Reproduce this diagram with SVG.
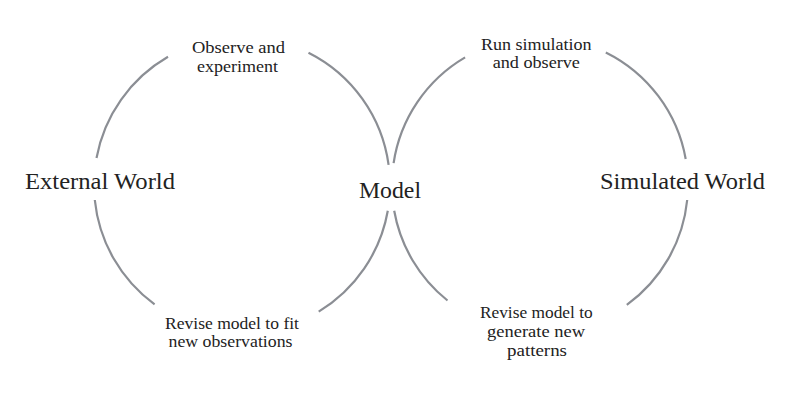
<svg xmlns="http://www.w3.org/2000/svg" width="795" height="402" viewBox="0 0 795 402">
<style>
.arc{fill:none;stroke:#8b8e94;stroke-width:2.2;stroke-linecap:butt}
text{font-family:"Liberation Serif","Times New Roman",serif;fill:#222;text-anchor:middle}
.big{font-size:23.5px}
.small{font-size:16.5px}
</style>
<rect width="795" height="402" fill="#fff"/>
<g id="connectors">
<path class="arc" d="M96.5,158 A148,148 0 0 1 168,56.8"/>
<path class="arc" d="M308.5,52.8 A148,148 0 0 1 388.6,164.9"/>
<path class="arc" d="M387.8,210.7 A148,148 0 0 1 318.7,311.6"/>
<path class="arc" d="M154.6,304.4 A148,148 0 0 1 94.8,200"/>
<path class="arc" d="M393.6,163.1 A148,148 0 0 1 465.1,57.4"/>
<path class="arc" d="M605.8,52.4 A148,148 0 0 1 685.7,159"/>
<path class="arc" d="M687.2,200 A148,148 0 0 1 626.8,304.9"/>
<path class="arc" d="M447.5,300.5 A148,148 0 0 1 394.2,210.7"/>
</g>
<g id="external-world" font-family="Liberation Serif, serif"><text class="big" x="100" y="189" textLength="150" lengthAdjust="spacingAndGlyphs">External World</text></g>
<g id="model" font-family="Liberation Serif, serif"><text class="big" x="390" y="198" textLength="62" lengthAdjust="spacingAndGlyphs">Model</text></g>
<g id="simulated-world" font-family="Liberation Serif, serif"><text class="big" x="682.5" y="189" textLength="165" lengthAdjust="spacingAndGlyphs">Simulated World</text></g>
<g id="observe" font-family="Liberation Serif, serif"><text class="small" x="238.5" y="53" textLength="93" lengthAdjust="spacingAndGlyphs">Observe and</text><text class="small" x="237.5" y="72" textLength="81" lengthAdjust="spacingAndGlyphs">experiment</text></g>
<g id="revise-fit" font-family="Liberation Serif, serif"><text class="small" x="232" y="328.5" textLength="134" lengthAdjust="spacingAndGlyphs">Revise model to fit</text><text class="small" x="230.5" y="347" textLength="124" lengthAdjust="spacingAndGlyphs">new observations</text></g>
<g id="run-sim" font-family="Liberation Serif, serif"><text class="small" x="536.3" y="50" textLength="110.7" lengthAdjust="spacingAndGlyphs">Run simulation</text><text class="small" x="536.3" y="68.3" textLength="87.3" lengthAdjust="spacingAndGlyphs">and observe</text></g>
<g id="revise-generate" font-family="Liberation Serif, serif"><text class="small" x="536.3" y="318" textLength="112.7" lengthAdjust="spacingAndGlyphs">Revise model to</text><text class="small" x="536" y="337" textLength="98" lengthAdjust="spacingAndGlyphs">generate new</text><text class="small" x="537" y="356" textLength="60" lengthAdjust="spacingAndGlyphs">patterns</text></g>
</svg>
